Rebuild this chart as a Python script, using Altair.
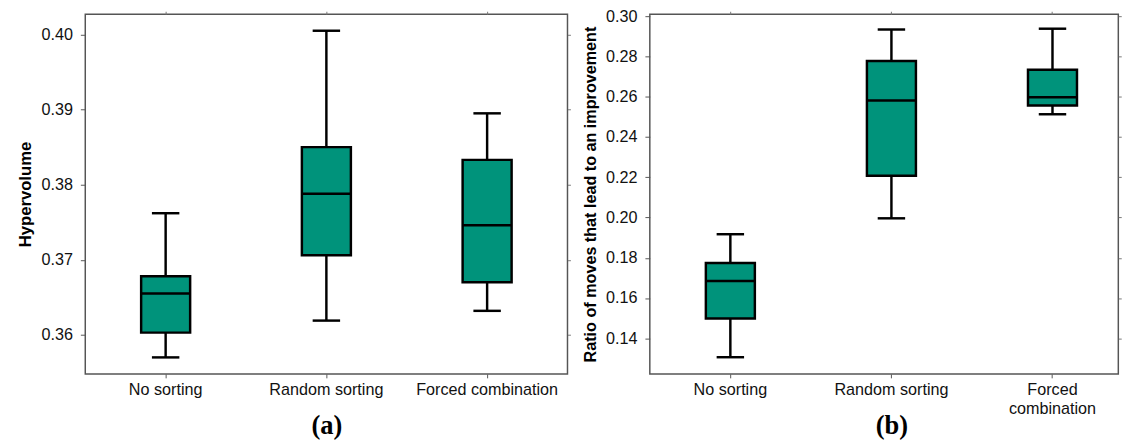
import altair as alt
import pandas as pd

categories = ["No sorting", "Random sorting", "Forced combination"]

hv_low = [0.3570, 0.3619, 0.3632]
hv_q1 = [0.3603, 0.3706, 0.3670]
hv_med = [0.3655, 0.3788, 0.3746]
hv_q3 = [0.3678, 0.3850, 0.3833]
hv_high = [0.3762, 0.4005, 0.3895]
hv_ticks = [0.36, 0.37, 0.38, 0.39, 0.40]

ratio_low = [0.1306, 0.1996, 0.2513]
ratio_q1 = [0.1498, 0.2207, 0.2556]
ratio_med = [0.1685, 0.2581, 0.2597]
ratio_q3 = [0.1774, 0.2778, 0.2734]
ratio_high = [0.1917, 0.2934, 0.2938]
ratio_ticks = [0.14, 0.16, 0.18, 0.20, 0.22, 0.24, 0.26, 0.28, 0.30]

BOX = "#00937B"
FONT = "Liberation Sans"


def panel(low, q1, med, q3, high, ytitle, ytitle_size, domain, ticks, width,
          height, xrange, label_expr, xtitle):
    df = pd.DataFrame({"cat": categories, "low": low, "q1": q1, "med": med,
                       "q3": q3, "high": high})
    xscale = alt.Scale(domain=categories, paddingInner=0, paddingOuter=0)
    if xrange is not None:
        xscale = alt.Scale(domain=categories, paddingInner=0, paddingOuter=0,
                           range=xrange)
    yscale = alt.Scale(domain=domain, nice=False, zero=False)

    xaxis = alt.Axis(title=xtitle, labelFont=FONT, labelFontSize=16.5,
                     labelColor="#111", labelAngle=0, labelPadding=4,
                     tickSize=4, tickColor="#555", domain=False,
                     labelExpr=label_expr, labelLineHeight=19,
                     titleFont="Liberation Serif", titleFontSize=27,
                     titleFontWeight="bold", titleColor="#000",
                     titleY=61, titleBaseline="alphabetic")
    yaxis = alt.Axis(title=ytitle, values=ticks, format=".2f",
                     labelFont=FONT, labelFontSize=16.5, labelColor="#111",
                     labelPadding=8, tickSize=5, tickColor="#555",
                     domain=False, grid=False, titleFont=FONT,
                     titleFontSize=ytitle_size, titleFontWeight="bold",
                     titleColor="#000", titlePadding=7)

    base = alt.Chart(df)
    whisk = base.mark_rule(color="#000", strokeWidth=2.5).encode(
        x=alt.X("cat:N", scale=xscale, axis=xaxis, sort=categories),
        y=alt.Y("low:Q", scale=yscale, axis=yaxis),
        y2="high:Q",
    )
    caps_lo = base.mark_tick(color="#000", size=28, thickness=2.5,
                             opacity=1).encode(
        x=alt.X("cat:N", scale=xscale, axis=None, sort=categories),
        y=alt.Y("low:Q", scale=yscale, axis=None),
    )
    caps_hi = base.mark_tick(color="#000", size=28, thickness=2.5,
                             opacity=1).encode(
        x=alt.X("cat:N", scale=xscale, axis=None, sort=categories),
        y=alt.Y("high:Q", scale=yscale, axis=None),
    )
    box = base.mark_bar(size=50, color=BOX, stroke="#000",
                        strokeWidth=2.5).encode(
        x=alt.X("cat:N", scale=xscale, axis=None, sort=categories),
        y=alt.Y("q1:Q", scale=yscale, axis=None),
        y2="q3:Q",
    )
    median = base.mark_tick(color="#000", size=50, thickness=2.5,
                            opacity=1).encode(
        x=alt.X("cat:N", scale=xscale, sort=categories,
                axis=alt.Axis(orient="top", labels=False, title=None,
                              tickSize=3, tickColor="#777", domain=False)),
        y=alt.Y("med:Q", scale=yscale,
                axis=alt.Axis(orient="right", labels=False, title=None,
                              values=ticks, tickSize=3, tickColor="#777",
                              domain=False, grid=False)),
    )
    return alt.layer(whisk, caps_lo, caps_hi, box, median).properties(
        width=width, height=height
    ).resolve_axis(x="independent", y="independent")


left = panel(hv_low, hv_q1, hv_med, hv_q3, hv_high, "Hypervolume", 17,
             [0.3548, 0.4027], hv_ticks, 492, 367, None,
             "datum.label", "(a)")
right = panel(ratio_low, ratio_q1, ratio_med, ratio_q3, ratio_high,
              "Ratio of moves that lead to an improvement", 16.5,
              [0.1223, 0.3010], ratio_ticks, 478, 367, [0, 493],
              "datum.label == 'Forced combination' ? ['Forced', 'combination'] : datum.label",
              "(b)")

chart = alt.hconcat(left, right, spacing=10).properties(
    padding={"left": 16, "top": 3, "right": 0, "bottom": 0},
    background="white",
).configure_view(stroke="#555", strokeWidth=1.5)

chart.save("out.html", embed_options={"renderer": "svg", "actions": False})
